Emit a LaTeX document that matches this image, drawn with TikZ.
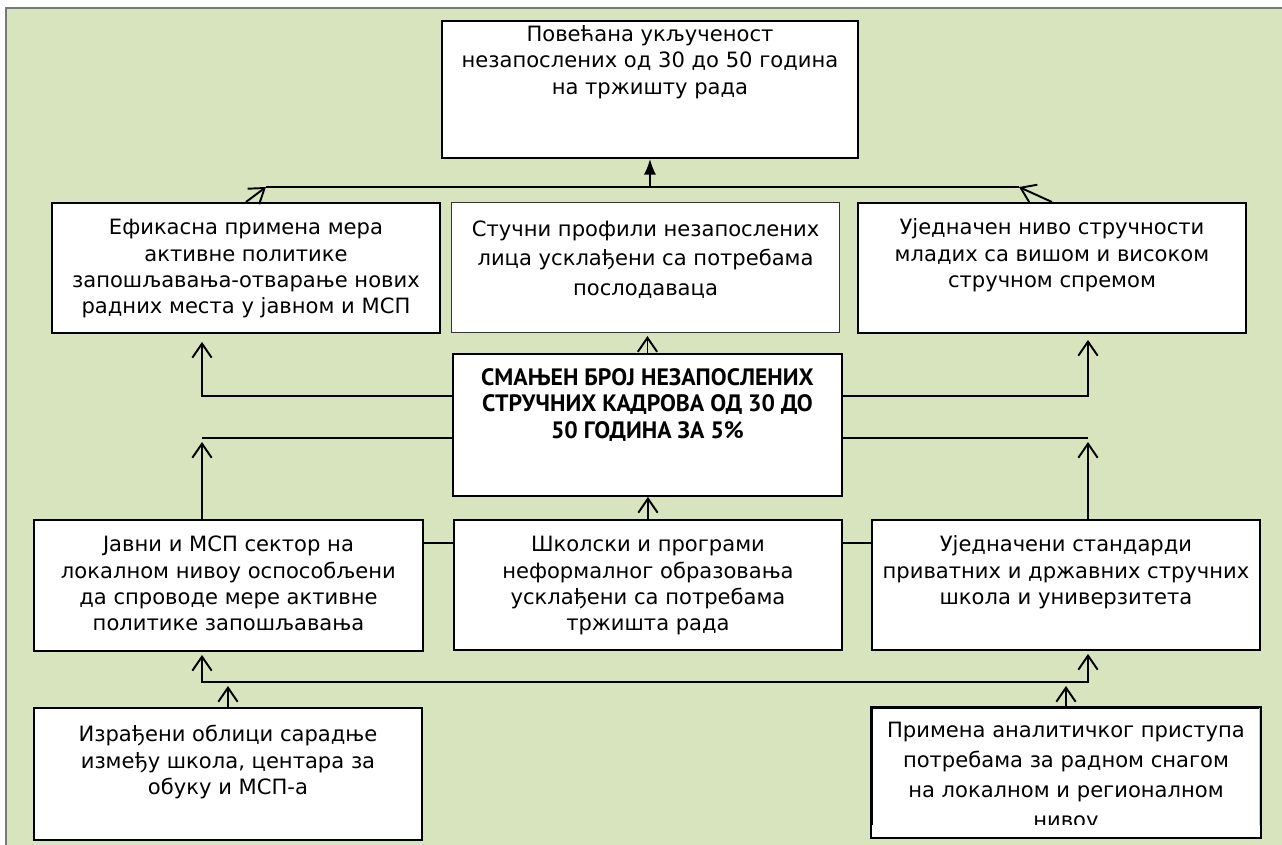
\documentclass[tikz,border=0pt]{standalone}
\usepackage{fontspec}
\setmainfont{DejaVu Sans}
\newfontfamily\goalfont{PT Sans}
\usepackage{tikz}
\usetikzlibrary{arrows.meta, positioning, calc}
\definecolor{FrameGreen}{RGB}{215,228,189}
\definecolor{FrameGray}{RGB}{120,120,120}
\newlength{\px}
\setlength{\px}{0.02cm}
\newcommand{\boxtext}[4]{\parbox[c][#2\px][t]{#1\px}{\centering\vspace*{#3\px}\strut#4}}
\tikzset{
  box/.style={draw, fill=white, line width=1.1pt, inner sep=0pt, anchor=north west,
    font=\fontsize{12}{15}\selectfont},
  thinbox/.style={box, line width=0.6pt, draw=black!80},
  conn/.style={line width=1.1pt},
  up/.style={conn, -{Straight Barb[length=8pt, width=11pt]}},
}

\begin{document}
\begin{tikzpicture}[x=0.02cm, y=-0.02cm]
  \useasboundingbox (0,0) rectangle (1282,845);
  \fill[FrameGreen] (6,8) rectangle (1290,850);
  \draw[FrameGray, line width=0.6pt] (6,850) -- (6,8) -- (1290,8);

  \node[box] (out) at (441,20) {\boxtext{416}{137}{2}{Повећана укљученост\\незапослених од 30 до 50 година\\на тржишту рада}};
  \node[box] (eff) at (51,202) {\boxtext{388}{130}{13.5}{Ефикасна примена мера\\активне политике\\запошљавања-отварање нових\\радних места у јавном и МСП}};
  \node[thinbox, font=\fontsize{12}{16.7}\selectfont] (prof) at (451,202) {\boxtext{388}{130}{13.5}{Стучни профили незапослених\\лица усклађени са потребама\\послодаваца}};
  \node[box] (unif) at (857,202) {\boxtext{388}{130}{13.5}{Уједначен ниво стручности\\младих са вишом и високом\\стручном спремом}};
  \node[box, font=\fontsize{13.5}{15}\goalfont\bfseries] (goal) at (452,353) {\boxtext{389}{142}{13}{СМАЊЕН БРОЈ НЕЗАПОСЛЕНИХ\\СТРУЧНИХ КАДРОВА ОД 30 ДО\\50 ГОДИНА ЗА 5\%}};
  \node[box] (jsec) at (33,519) {\boxtext{389}{131}{13.5}{Јавни и МСП сектор на\\локалном нивоу оспособљени\\да спроводе мере активне\\политике запошљавања}};
  \node[box] (school) at (453,519) {\boxtext{388}{130}{13.5}{Школски и програми\\неформалног образовања\\усклађени са потребама\\тржишта рада}};
  \node[box] (std) at (871,519) {\boxtext{388}{130}{13.5}{Уједначени стандарди\\приватних и државних стручних\\школа и универзитета}};
  \node[box] (coop) at (33,707) {\boxtext{388}{132}{15.5}{Израђени облици сарадње\\између школа, центара за\\обуку и МСП-а}};
  \begin{scope}
    \clip (871,707) rectangle (1259,825);
    \node[box, font=\fontsize{12}{17}\selectfont] (anal) at (871,707) {\boxtext{388}{129}{9}{Примена аналитичког приступа\\потребама за радном снагом\\на локалном и регионалном\\нивоу}};
  \end{scope}
  \coordinate (cut) at (0,825);
  \fill[white] (cut -| anal.west) rectangle (anal.south east);
  \draw[line width=1.1pt] (anal.north west) rectangle (anal.south east);

  \coordinate (tl) at (266,187);
  \coordinate (tr) at (1019,187);
  \coordinate (tm) at (out.south |- tl);
  \draw[conn] (tl) -- (tr);
  \draw[conn, -{Latex[length=9pt, width=7pt]}] (tm) -- (out.south);
  \draw[up] (eff.north) -- (tl);
  \draw[up] (unif.north) -- (tr);
  \draw[up, shorten >=3\px] (goal.north) -- (goal.north |- prof.south);

  \coordinate (ul) at (202,396);
  \coordinate (ur) at (1088,396);
  \draw[up, shorten >=8\px] (goal.west |- ul) -- (ul) -- (ul |- eff.south);
  \draw[up, shorten >=6\px] (goal.east |- ur) -- (ur) -- (ur |- unif.south);
  \coordinate (ll) at (202,438);
  \coordinate (lr) at (1088,438);
  \draw[conn] (goal.west |- ll) -- (ll);
  \draw[conn] (goal.east |- lr) -- (lr);
  \draw[up, shorten >=4\px] (ll |- jsec.north) -- (ll);
  \draw[up, shorten >=4\px] (lr |- std.north) -- (lr);
  \draw[up] (school.north) -- (school.north |- goal.south);

  \coordinate (lk) at (0,543);
  \draw[line width=0.6pt] (jsec.east |- lk) -- (school.west |- lk);
  \draw[line width=0.6pt] (school.east |- lk) -- (std.west |- lk);

  \coordinate (bl) at (202,682);
  \coordinate (br) at (1088,682);
  \draw[up, shorten >=3\px] (br) -- (bl) -- (bl |- jsec.south);
  \draw[up, shorten >=3\px] (bl) -- (br) -- (br |- std.south);
  \draw[up, shorten >=4\px] (coop.north) -- (coop.north |- bl);
  \draw[up, shorten >=4\px] (anal.north) -- (anal.north |- br);
\end{tikzpicture}
\end{document}
